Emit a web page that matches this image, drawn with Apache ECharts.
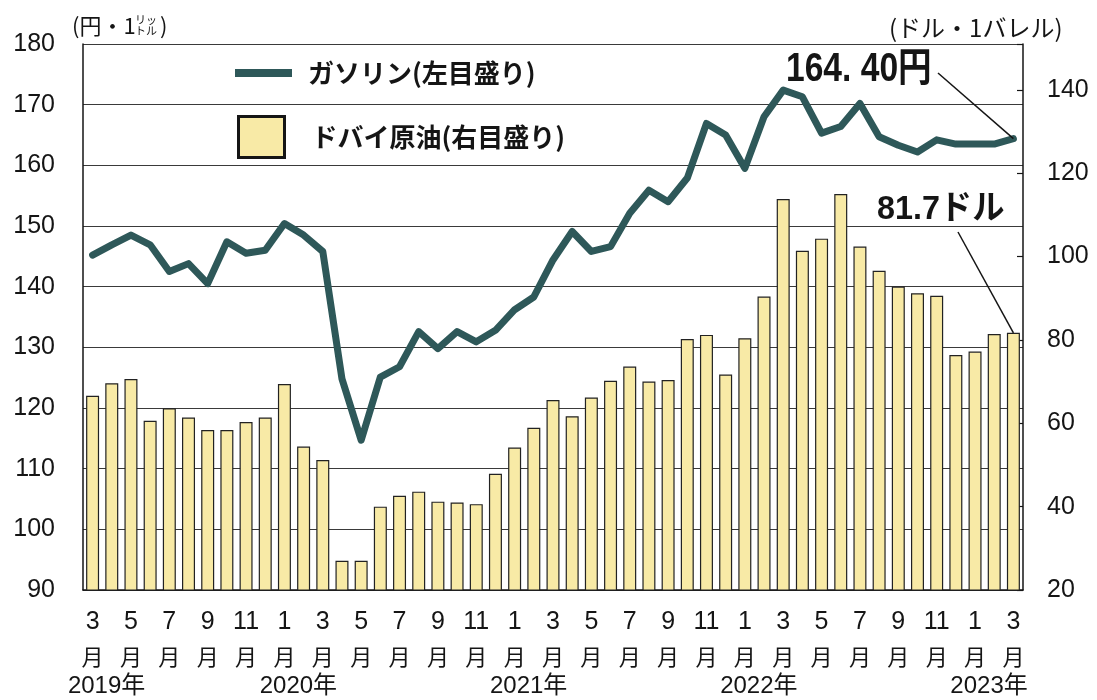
<!DOCTYPE html>
<html>
<head>
<meta charset="utf-8">
<script src="https://cdn.jsdelivr.net/npm/echarts@6/dist/echarts.min.js"></script>
<style>
  html, body { margin: 0; padding: 0; background: #fff; }
  #chart { width: 1097px; height: 700px; }
</style>
</head>
<body>
<div id="chart"></div>
<script>
// ガソリン小売価格（左軸, 円/ℓ）とドバイ原油（右軸, ドル/バレル）の月次推移
const months = [
  '2019/3', '2019/4', '2019/5', '2019/6', '2019/7', '2019/8', '2019/9', '2019/10', '2019/11', '2019/12',
  '2020/1', '2020/2', '2020/3', '2020/4', '2020/5', '2020/6', '2020/7', '2020/8', '2020/9', '2020/10', '2020/11', '2020/12',
  '2021/1', '2021/2', '2021/3', '2021/4', '2021/5', '2021/6', '2021/7', '2021/8', '2021/9', '2021/10', '2021/11', '2021/12',
  '2022/1', '2022/2', '2022/3', '2022/4', '2022/5', '2022/6', '2022/7', '2022/8', '2022/9', '2022/10', '2022/11', '2022/12',
  '2023/1', '2023/2', '2023/3'
]
// 年の見出し（その月のラベルの下に出す）
const yearMarks = {
  '2019/3': '2019年', '2020/1': '2020年', '2021/1': '2021年', '2022/1': '2022年', '2023/1': '2023年'
}
const gasoline = [
  145.2, 146.9, 148.5, 146.9, 142.5, 143.8, 140.5, 147.4, 145.5, 146.0,
  150.4, 148.5, 145.8, 124.8, 114.7, 125.1, 126.8, 132.6, 129.8, 132.6, 130.9, 132.8,
  136.2, 138.3, 144.4, 149.1, 145.8, 146.6, 152.1, 155.9, 154.0, 157.9, 166.9, 165.0,
  159.5, 168.0, 172.4, 171.3, 165.3, 166.4, 170.2, 164.7, 163.3, 162.2, 164.2, 163.5,
  163.5, 163.5, 164.4
]
const dubai = [
  66.6, 69.6, 70.6, 60.6, 63.6, 61.4, 58.4, 58.4, 60.3, 61.4,
  69.4, 54.4, 51.2, 27.0, 27.0, 40.0, 42.6, 43.6, 41.2, 41.0, 40.6, 47.9,
  54.2, 58.9, 65.6, 61.7, 66.2, 70.2, 73.6, 70.0, 70.4, 80.2, 81.2, 71.7,
  80.4, 90.4, 113.8, 101.4, 104.3, 115.0, 102.4, 96.6, 92.8, 91.2, 90.6, 76.4,
  77.2, 81.4, 81.7
]
const gasName = 'ガソリン(左目盛り)'
const oilName = 'ドバイ原油(右目盛り)'

const INK = '#151515'
const LINE = '#2e5859'
const BAR = '#f8eaa6'
const JP = '"Noto Sans CJK JP"'
const SANS = '"Liberation Sans", "Noto Sans CJK JP"'

const last = months.length - 1
const chart = echarts.init(document.getElementById('chart'), null, { renderer: 'canvas' })

chart.setOption({
  animation: false,
  backgroundColor: '#fff',
  grid: { left: 83, right: 74, top: 44, bottom: 110, containLabel: false, outerBoundsMode: 'none' },
  legend: [
    {
      left: 235, top: 58, padding: 0, itemWidth: 57, itemHeight: 8, selectedMode: false,
      data: [{ name: gasName, icon: 'rect' }],
      textStyle: { fontSize: 26, fontWeight: 'bold', fontFamily: JP, color: INK, lineHeight: 30, padding: [0, 0, 0, 11] }
    },
    {
      left: 237, top: 115, padding: 0, itemWidth: 46, itemHeight: 41, selectedMode: false,
      data: [{ name: oilName, icon: 'rect', itemStyle: { borderColor: INK, borderWidth: 3 } }],
      textStyle: { fontSize: 26, fontWeight: 'bold', fontFamily: JP, color: INK, lineHeight: 30, padding: [0, 0, 0, 22] }
    }
  ],
  xAxis: [
    {
      type: 'category', data: months, boundaryGap: true,
      axisLine: { lineStyle: { color: INK, width: 1.5 } },
      axisTick: { inside: true, length: 6, interval: 0, lineStyle: { color: INK, width: 1.2 } },
      axisLabel: {
        interval: 1, margin: 8, color: INK, showMinLabel: true, showMaxLabel: true,
        formatter: (v) => '{m|' + v.split('/')[1] + '}\n{u|月}',
        rich: {
          m: { fontSize: 25, fontFamily: SANS, lineHeight: 48, color: INK },
          u: { fontSize: 22, fontFamily: JP, lineHeight: 22, color: INK }
        }
      }
    },
    {
      // 年の見出しだけを出す補助軸
      type: 'category', data: months, boundaryGap: true, position: 'bottom',
      axisLine: { show: false }, axisTick: { show: false }, splitLine: { show: false },
      axisLabel: {
        interval: 0, margin: 80, color: INK, fontSize: 24, fontFamily: SANS,
        lineHeight: 32, padding: [0, 0, 0, 28],
        formatter: (v) => yearMarks[v] || ''
      }
    }
  ],
  yAxis: [
    {
      type: 'value', position: 'left', min: 90, max: 180, interval: 10,
      axisLine: { show: true, lineStyle: { color: INK, width: 1.5 } },
      axisTick: { show: false },
      splitLine: { show: true, lineStyle: { color: '#3a3a3a', width: 1 } },
      axisLabel: { margin: 28, fontSize: 25, fontFamily: '"Liberation Sans"', color: INK }
    },
    {
      type: 'value', position: 'right', min: 20, max: 151, interval: 20,
      axisLine: { show: true, lineStyle: { color: INK, width: 1.5 } },
      axisTick: { show: true, inside: true, length: 6, lineStyle: { color: INK, width: 1.2 } },
      splitLine: { show: false },
      axisLabel: {
        margin: 24, fontSize: 25, fontFamily: '"Liberation Sans"', color: INK,
        formatter: (v) => (v % 20 === 0 ? String(v) : '')
      }
    }
  ],
  series: [
    {
      name: oilName, type: 'bar', yAxisIndex: 1, data: dubai, barWidth: 13,
      itemStyle: { color: BAR, borderColor: '#222', borderWidth: 1.2 },
      markLine: {
        silent: true, symbol: ['none', 'none'], label: { show: false },
        emphasis: { disabled: true },
        lineStyle: { color: INK, width: 1.5, type: 'solid' },
        data: [[{ x: 958, y: 232 }, { coord: [months[last], dubai[last]] }]]
      }
    },
    {
      name: gasName, type: 'line', yAxisIndex: 0, data: gasoline,
      symbol: 'none', showSymbol: false, z: 3,
      itemStyle: { color: LINE },
      lineStyle: { color: LINE, width: 7, join: 'round', cap: 'round' },
      markLine: {
        silent: true, symbol: ['none', 'none'], label: { show: false },
        emphasis: { disabled: true },
        lineStyle: { color: INK, width: 1.5, type: 'solid' },
        data: [[{ x: 938, y: 73 }, { coord: [months[last], gasoline[last]] }]]
      }
    }
  ],
  graphic: [
    // 左軸の単位 (円・1 ﾘｯ/ﾄﾙ)
    { type: 'text', x: 72, y: 26, style: { text: '(円・1', fontSize: 22, fontFamily: JP, fill: INK, verticalAlign: 'middle' } },
    { type: 'text', x: 135, y: 20, style: { text: 'リッ', fontSize: 11, fontFamily: JP, fill: INK, verticalAlign: 'middle' } },
    { type: 'text', x: 135, y: 31, style: { text: 'トル', fontSize: 11, fontFamily: JP, fill: INK, verticalAlign: 'middle' } },
    { type: 'text', x: 160, y: 26, style: { text: ')', fontSize: 22, fontFamily: JP, fill: INK, verticalAlign: 'middle' } },
    // 右軸の単位
    { type: 'text', x: 889, y: 28, style: { text: '(ドル・1バレル)', fontSize: 24, fontFamily: JP, fill: INK, verticalAlign: 'middle' } },
    // 最新値の注記（長体）
    { type: 'text', x: 786, y: 70, scaleX: 0.84, style: { text: '164. 40円', fontSize: 40, fontWeight: 'bold', fontFamily: SANS, fill: INK, verticalAlign: 'middle' } },
    { type: 'text', x: 877, y: 210, scaleX: 0.95, style: { text: '81.7ドル', fontSize: 34, fontWeight: 'bold', fontFamily: SANS, fill: INK, verticalAlign: 'middle' } }
  ]
})
</script>
</body>
</html>
